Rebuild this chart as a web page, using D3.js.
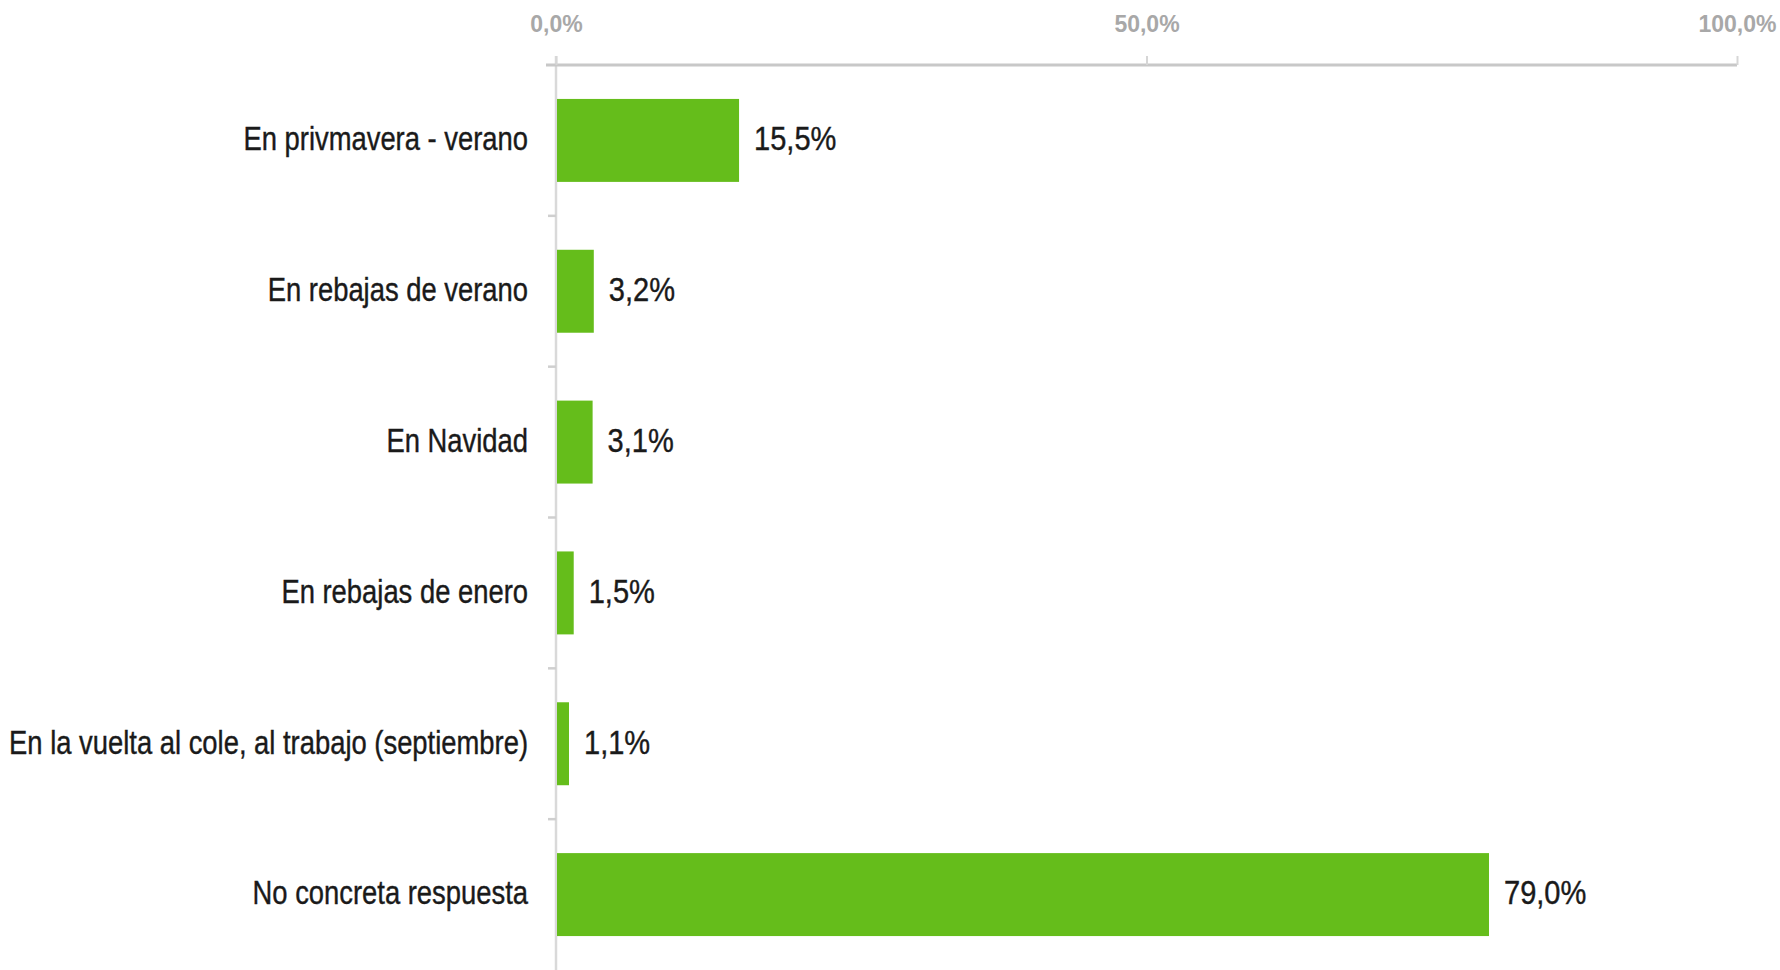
<!DOCTYPE html>
<html>
<head>
<meta charset="utf-8">
<script src="https://cdn.jsdelivr.net/npm/d3@7"></script>
<style>
  html, body { margin: 0; padding: 0; background: #ffffff; }
  svg { display: block; }
</style>
</head>
<body>
<svg id="chart" width="1780" height="970"></svg>
<script>
const categories = [
  "En privmavera - verano",
  "En rebajas de verano",
  "En Navidad",
  "En rebajas de enero",
  "En la vuelta al cole, al trabajo (septiembre)",
  "No concreta respuesta"
];
const values = [15.5, 3.2, 3.1, 1.5, 1.1, 79.0];
const xTickValues = [0, 50, 100];

const fmt = v => v.toFixed(1).replace(".", ",") + "%";
const labelFont = "'Liberation Sans', Arial, sans-serif";
const squeezeCat = 0.83;   // condensed look of the original typeface
const squeezeVal = 0.88;

const svg = d3.select("#chart");
const W = 1780, H = 970;
const margin = { top: 65, right: 43, bottom: 0, left: 556 };

const x = d3.scaleLinear().domain([0, 100]).range([margin.left, W - margin.right]);
const y = d3.scaleBand().domain(categories).range([margin.top, H - margin.bottom])
  .paddingInner(0.45).paddingOuter(0.225);

// vertical axis line
svg.append("line")
  .attr("x1", x(0)).attr("x2", x(0))
  .attr("y1", margin.top - 9).attr("y2", H)
  .attr("stroke", "#d9d9d9").attr("stroke-width", 2.5);

// left boundary ticks between categories
const bounds = categories.slice(1).map(c => y(c) - y.step() * y.paddingInner() / 2);
svg.append("g").selectAll("line").data(bounds).join("line")
  .attr("x1", x(0) - 8).attr("x2", x(0))
  .attr("y1", d => d).attr("y2", d => d)
  .attr("stroke", "#cfcfcf").attr("stroke-width", 2.5);

// top axis
const xAxis = d3.axisTop(x).tickValues(xTickValues).tickFormat(fmt).tickSize(9).tickPadding(24);
const gx = svg.append("g").attr("transform", `translate(0,${margin.top})`).call(xAxis);
gx.select(".domain")
  .attr("d", `M${x(0) - 10},0H${x(100)}`)
  .attr("stroke", "#c8c8c8").attr("stroke-width", 3);
gx.selectAll(".tick line").attr("stroke", "#d6d6d6").attr("stroke-width", 2);
gx.selectAll(".tick text")
  .attr("fill", "#a8a8a8")
  .style("font-family", "'Liberation Sans', Arial, sans-serif")
  .style("font-weight", "bold")
  .style("font-size", "23px");

// bars
svg.append("g").selectAll("rect").data(values).join("rect")
  .attr("x", x(0) + 1)
  .attr("y", (d, i) => y(categories[i]))
  .attr("width", d => x(d) - x(0) - 1)
  .attr("height", y.bandwidth())
  .attr("fill", "#65bd1b");

// category labels
const yc = c => y(c) + y.bandwidth() / 2;
svg.append("g").selectAll("g").data(categories).join("g")
  .attr("transform", d => `translate(${x(0) - 28},${yc(d)}) scale(${squeezeCat},1)`)
  .append("text")
  .attr("text-anchor", "end")
  .attr("dy", "0.3em")
  .attr("fill", "#1a1a1a")
  .attr("stroke", "#1a1a1a").attr("stroke-width", 0.4)
  .style("font-family", labelFont)
  .style("font-size", "33px")
  .text(d => d);

// value labels
svg.append("g").selectAll("g").data(values).join("g")
  .attr("transform", (d, i) => `translate(${x(d) + 15},${yc(categories[i])}) scale(${squeezeVal},1)`)
  .append("text")
  .attr("dy", "0.3em")
  .attr("fill", "#1a1a1a")
  .attr("stroke", "#1a1a1a").attr("stroke-width", 0.4)
  .style("font-family", labelFont)
  .style("font-size", "33px")
  .text(d => fmt(d));
</script>
</body>
</html>
